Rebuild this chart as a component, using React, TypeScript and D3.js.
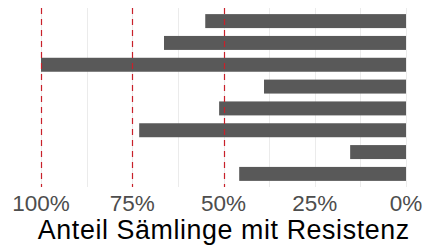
import { useRef, useEffect } from "react";
import * as d3 from "d3";

// one bar per row, top to bottom (row labels are hidden in the original)
const rows = ["1", "2", "3", "4", "5", "6", "7", "8"];
const shares = [0.55, 0.663, 1.0, 0.389, 0.512, 0.731, 0.153, 0.457];
const refLines = [1.0, 0.75, 0.5];
const tickValues = [1.0, 0.75, 0.5, 0.25, 0];
const gridValues = [1.0, 0.875, 0.75, 0.625, 0.5, 0.375, 0.25, 0.125, 0];
const xTitle = "Anteil Sämlinge mit Resistenz";

const App = () => {
  const ref = useRef<SVGSVGElement | null>(null);
  const w = 429;
  const h = 247;

  useEffect(() => {
    const svg = d3.select(ref.current);
    svg.selectAll("*").remove();

    // reversed axis: 100% on the left, 0% on the right
    const x = d3.scaleLinear().domain([1, 0]).range([41, 406]);
    const y = d3
      .scaleBand<string>()
      .domain(rows)
      .range([8, 187])
      .paddingInner(0.36)
      .paddingOuter(0.28);
    // snap vertical rules to the pixel grid
    const px = (d: number) => Math.round(x(d)) + 0.5;

    svg
      .append("g")
      .selectAll("line")
      .data(gridValues)
      .enter()
      .append("line")
      .attr("x1", px)
      .attr("x2", px)
      .attr("y1", 8)
      .attr("y2", 187)
      .attr("stroke", "#ebebeb")
      .attr("stroke-width", 1);

    svg
      .append("g")
      .selectAll("rect")
      .data(shares)
      .enter()
      .append("rect")
      .attr("x", (d) => x(d))
      .attr("y", (_, i) => y(rows[i]) as number)
      .attr("width", (d) => x(0) - x(d))
      .attr("height", y.bandwidth())
      .attr("fill", "#595959");

    svg
      .append("g")
      .selectAll("line")
      .data(refLines)
      .enter()
      .append("line")
      .attr("x1", px)
      .attr("x2", px)
      .attr("y1", 8)
      .attr("y2", 187)
      .attr("stroke", "#c8202a")
      .attr("stroke-width", 1.2)
      .attr("stroke-dasharray", "6,5");

    svg
      .append("g")
      .selectAll("text")
      .data(tickValues)
      .enter()
      .append("text")
      .attr("x", (d) => x(d))
      .attr("y", 211)
      .attr("text-anchor", "middle")
      .attr("font-family", "Liberation Sans, Arial, sans-serif")
      .attr("font-size", 22.5)
      .attr("fill", "#4d4d4d")
      .text((d) => d3.format(".0%")(d));

    svg
      .append("text")
      .attr("x", (x(1) + x(0)) / 2 + 0.3)
      .attr("y", 239)
      .attr("text-anchor", "middle")
      .attr("font-family", "Liberation Sans, Arial, sans-serif")
      .attr("font-size", 26.8)
      .attr("letter-spacing", 0.6)
      .attr("fill", "#000")
      .text(xTitle);
  }, []);

  return (
    <svg
      ref={ref}
      width={w}
      height={h}
      style={{ position: "absolute", left: 0, top: 0, background: "#fff" }}
    />
  );
};

export default App;
